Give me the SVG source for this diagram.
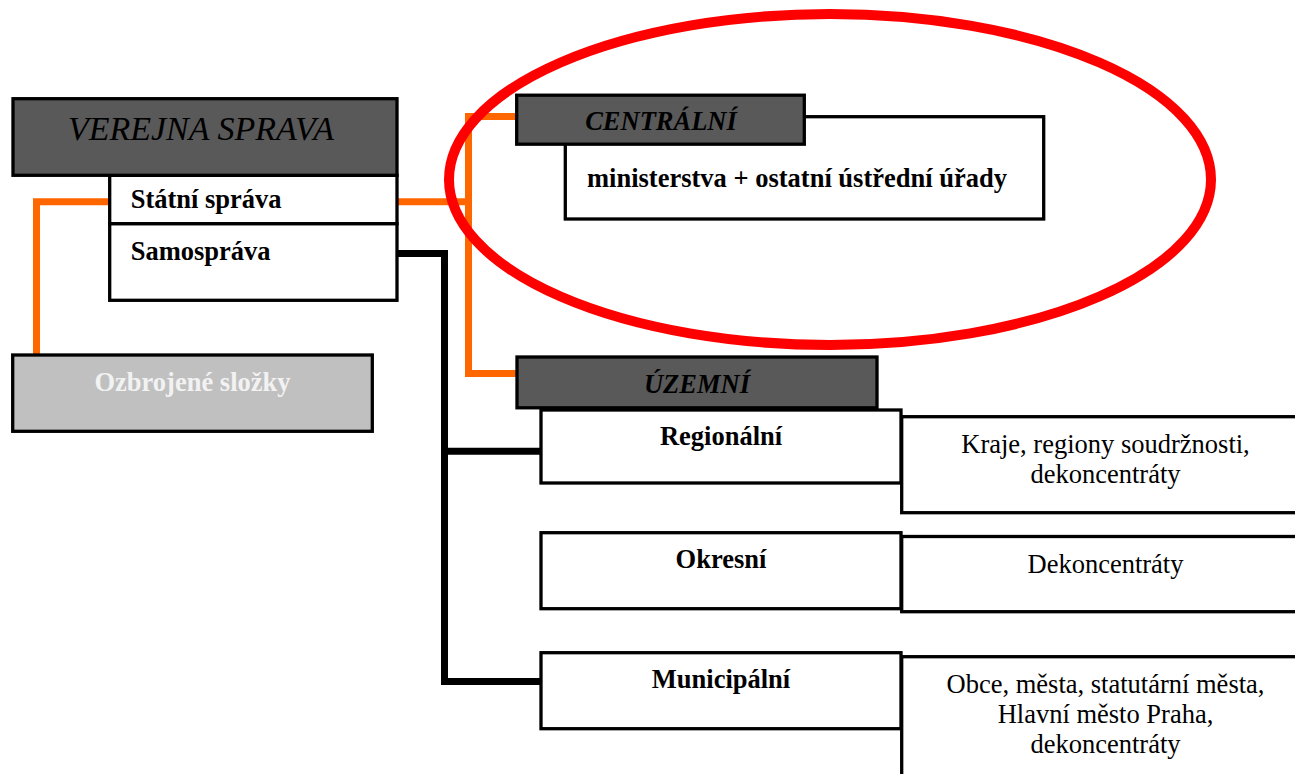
<svg xmlns="http://www.w3.org/2000/svg" width="1295" height="774" viewBox="0 0 1295 774">
<style>
.box{fill:#ffffff;stroke:#000;stroke-width:3.3}
.dark{fill:#595959;stroke:#000;stroke-width:3.3}
.grey{fill:#c0c0c0;stroke:#000;stroke-width:3.3}
.t{font-family:"Liberation Serif","Times New Roman",serif;font-size:26.5px;fill:#000}
.b{font-weight:bold}
.i{font-style:italic}
.c{text-anchor:middle}
.orange{fill:none;stroke:#ff6600;stroke-width:7}
.black{fill:none;stroke:#000;stroke-width:7}
</style>
<rect width="1295" height="774" fill="#ffffff"/>
<g id="connectors">
<path class="orange" d="M109.7,201.7 H36.5 V355"/>
<path class="orange" d="M397,201.7 H468.5"/>
<path class="orange" d="M516.7,116.5 H468.5 V373.5 H517"/>
<path class="black" d="M397,253.5 H444.5 V681.5 H541"/>
<path class="black" d="M444.5,451.2 H541"/>
</g>
<g id="verejna-sprava">
<rect class="box" x="109.7" y="175.3" width="287.3" height="48.5"/>
<rect class="box" x="109.7" y="223.8" width="287.3" height="76.5"/>
<rect class="dark" x="13" y="98.7" width="384" height="76.6"/>
<text class="t i c" x="201" y="140" style="font-size:34px">VEREJNA SPRAVA</text>
<text class="t b" x="130.7" y="208.3">Státní správa</text>
<text class="t b" x="130.7" y="260">Samospráva</text>
</g>
<g id="ozbrojene">
<rect class="grey" x="12.7" y="355" width="359.6" height="76.3"/>
<text class="t b c" x="192.5" y="391" style="fill:#f2f2f2">Ozbrojené složky</text>
</g>
<g id="centralni">
<rect class="box" x="565.3" y="116.7" width="478.4" height="102.3"/>
<rect class="dark" x="516.7" y="95.2" width="287.6" height="49"/>
<text class="t b i c" x="661" y="130">CENTRÁLNÍ</text>
<text class="t b" x="587" y="187">ministerstva + ostatní ústřední úřady</text>
</g>
<g id="uzemni">
<rect class="dark" x="517" y="357" width="360" height="50.8"/>
<text class="t b i c" x="697" y="393.3">ÚZEMNÍ</text>
</g>
<g id="regionalni">
<rect class="box" x="901.7" y="416.7" width="420" height="96"/>
<rect class="box" x="541" y="410" width="360" height="73"/>
<text class="t b c" x="721" y="445">Regionální</text>
<text class="t c" x="1105.5" y="453.3">Kraje, regiony soudržnosti,</text>
<text class="t c" x="1105.5" y="483.3">dekoncentráty</text>
</g>
<g id="okresni">
<rect class="box" x="901.7" y="536.5" width="420" height="75.2"/>
<rect class="box" x="541" y="532.7" width="360" height="76"/>
<text class="t b c" x="721" y="568.3">Okresní</text>
<text class="t c" x="1105.5" y="573.3">Dekoncentráty</text>
</g>
<g id="municipalni">
<rect class="box" x="901.7" y="656.7" width="420" height="140"/>
<rect class="box" x="541" y="652.7" width="360" height="76"/>
<text class="t b c" x="721" y="688.3">Municipální</text>
<text class="t c" x="1105.5" y="693.3">Obce, města, statutární města,</text>
<text class="t c" x="1105.5" y="723.3">Hlavní město Praha,</text>
<text class="t c" x="1105.5" y="753.3">dekoncentráty</text>
</g>
<g id="highlight">
<ellipse cx="830" cy="179.5" rx="381" ry="165.5" fill="none" stroke="#ff0000" stroke-width="10"/>
</g>
</svg>
